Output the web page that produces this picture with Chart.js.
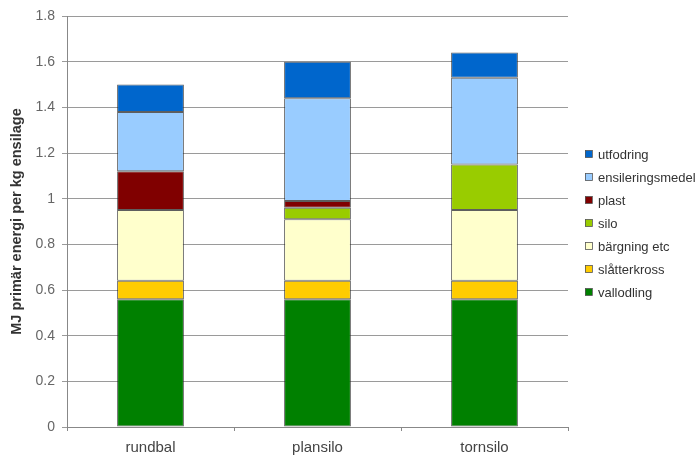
<!DOCTYPE html>
<html>
<head>
<meta charset="utf-8">
<script src="https://cdn.jsdelivr.net/npm/chart.js@4/dist/chart.umd.min.js"></script>
<style>
  html, body { margin: 0; padding: 0; background: #fff; }
  #wrap { width: 696px; height: 470px; position: relative; }
</style>
</head>
<body>
<div id="wrap"><canvas id="c" width="696" height="470"></canvas></div>
<script>
// Energy use per kg silage, by storage method (MJ primary energy)
const categories = ['rundbal', 'plansilo', 'tornsilo'];

const vallodling       = [0.56, 0.56, 0.56];
const slatterkross     = [0.08, 0.08, 0.08];
const bargning         = [0.31, 0.27, 0.31];
const silo             = [0.00, 0.05, 0.20];
const plast            = [0.17, 0.03, 0.00];
const ensileringsmedel = [0.26, 0.45, 0.38];
const utfodring        = [0.12, 0.16, 0.11];

const yTicks = [0, 0.2, 0.4, 0.6, 0.8, 1, 1.2, 1.4, 1.6, 1.8];

const series = [
  { label: 'vallodling',       data: vallodling,       color: '#008000' },
  { label: 'slåtterkross',     data: slatterkross,     color: '#FFCC00' },
  { label: 'bärgning etc',     data: bargning,         color: '#FFFFCC' },
  { label: 'silo',             data: silo,             color: '#99CC00' },
  { label: 'plast',            data: plast,            color: '#800000' },
  { label: 'ensileringsmedel', data: ensileringsmedel, color: '#99CCFF' },
  { label: 'utfodring',        data: utfodring,        color: '#0066CC' }
];

const FONT = '"Liberation Sans", Arial, sans-serif';

// Legend drawn at the right, top entry = last stacked series
const sideLegend = {
  id: 'sideLegend',
  afterDraw(chart) {
    const ctx = chart.ctx;
    const ds = chart.data.datasets;
    ctx.save();
    ctx.font = '13px ' + FONT;
    ctx.textBaseline = 'middle';
    ctx.textAlign = 'left';
    const x0 = 585, y0 = 154, step = 23;
    for (let i = ds.length - 1, k = 0; i >= 0; i--, k++) {
      const y = y0 + k * step;
      ctx.fillStyle = ds[i].backgroundColor;
      ctx.fillRect(x0, y - 3.5, 7, 7);
      ctx.strokeStyle = '#555';
      ctx.lineWidth = 0.8;
      ctx.strokeRect(x0 + 0.5, y - 3.5, 7, 7);
      ctx.fillStyle = '#333';
      ctx.fillText(ds[i].label, x0 + 13, y + 1);
    }
    ctx.restore();
  }
};

new Chart(document.getElementById('c'), {
  type: 'bar',
  data: {
    labels: categories,
    datasets: series.map(s => ({
      label: s.label,
      data: s.data,
      backgroundColor: s.color,
      borderColor: 'rgba(40,40,40,0.75)',
      borderWidth: c => (c.raw ? 1 : 0),
      borderSkipped: false,
      categoryPercentage: 1,
      barPercentage: 0.4
    }))
  },
  options: {
    responsive: false,
    animation: false,
    devicePixelRatio: 1,
    layout: { padding: { left: 0, right: 128, top: 16, bottom: 0 } },
    plugins: {
      legend: { display: false },
      tooltip: { enabled: false }
    },
    scales: {
      x: {
        stacked: true,
        offset: true,
        grid: {
          offset: true,
          drawOnChartArea: false,
          color: '#888',
          tickLength: 4
        },
        border: { color: '#888', width: 1 },
        ticks: {
          color: '#444',
          font: { family: FONT, size: 15 },
          padding: 8
        },
        afterFit(scale) { scale.height = 43; }
      },
      y: {
        stacked: true,
        min: 0,
        max: 1.8,
        afterBuildTicks(scale) { scale.ticks = yTicks.map(v => ({ value: v })); },
        grid: {
          color: '#9a9a9a',
          lineWidth: 1,
          tickLength: 5
        },
        border: { color: '#888', width: 1 },
        ticks: {
          color: '#666',
          font: { family: FONT, size: 14 },
          padding: 7,
          callback: v => String(Math.round(v * 10) / 10)
        },
        title: {
          display: true,
          text: 'MJ primär energi per kg ensilage',
          color: '#333',
          font: { family: FONT, size: 14.5, weight: 'bold' },
          padding: { top: 8, bottom: 0 }
        },
        afterFit(scale) { scale.width = 67; }
      }
    }
  },
  plugins: [sideLegend]
});
</script>
</body>
</html>
